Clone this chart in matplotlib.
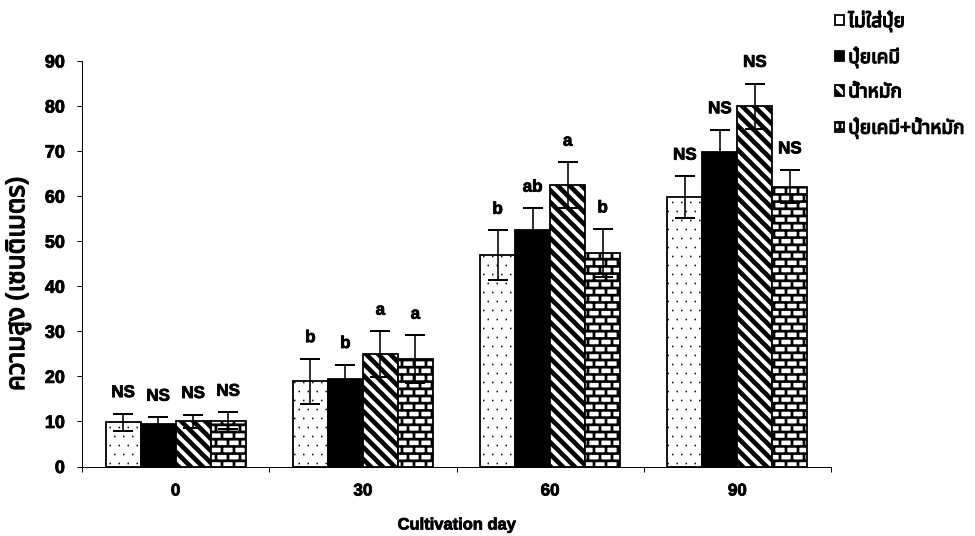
import numpy as np
import matplotlib
matplotlib.use('Agg')
import matplotlib.pyplot as plt
import matplotlib.patheffects as pe
from matplotlib import hatch as mhatch, font_manager
from matplotlib.ft2font import FT2Font
from matplotlib.path import Path

days = ['0', '30', '60', '90']
treatments = ['ไม่ใส่ปุ๋ย', 'ปุ๋ยเคมี', 'น้ำหมัก', 'ปุ๋ยเคมี+น้ำหมัก']

# plant height (cm) per cultivation day
height_none = [9.8, 18.9, 46.9, 59.8]
height_chem = [9.5, 19.5, 52.6, 69.8]
height_bio = [10.0, 24.9, 62.4, 80.0]
height_mix = [10.2, 23.8, 47.4, 62.1]

err_none = [1.9, 5.0, 5.5, 4.6]
err_chem = [1.4, 3.1, 4.7, 4.9]
err_bio = [1.5, 5.1, 5.1, 5.0]
err_mix = [1.8, 5.3, 5.3, 3.7]

sig_none = ['NS', 'b', 'b', 'NS']
sig_chem = ['NS', 'b', 'ab', 'NS']
sig_bio = ['NS', 'a', 'a', 'NS']
sig_mix = ['NS', 'a', 'b', 'NS']

DPI = 72


# --- filled hatch patterns (thick stripes, dots, bricks) ---
def rect(x0, y0, x1, y1):
    return [(x0, y0), (x1, y0), (x1, y1), (x0, y1), (x0, y0)]


class FilledHatch(mhatch.HatchPatternBase):
    char = ''

    def __init__(self, hatch, density):
        n = hatch.count(self.char)
        self.polys = self.make(n, density) if n else []
        self.num_vertices = 5 * len(self.polys)

    def set_vertices_and_codes(self, vertices, codes):
        vertices[:] = np.array(self.polys, dtype=float).reshape(-1, 2)
        codes[:] = np.tile([Path.MOVETO, Path.LINETO, Path.LINETO,
                            Path.LINETO, Path.CLOSEPOLY], len(self.polys))


class Stripes(FilledHatch):
    char = '\\'

    def make(self, n, density):
        k = n * density
        h = 0.27 / k
        polys = []
        for i in range(2 * k + 1):
            c = i / k
            polys.append([(c - h + 1, -1), (c + h + 1, -1), (c + h - 2, 2),
                          (c - h - 2, 2), (c - h + 1, -1)])
        return polys


class Dots(FilledHatch):
    char = '.'

    def make(self, n, density):
        k = 8 * n
        s = 0.7 / DPI
        polys = []
        for j in range(k):
            for i in range(k):
                x = (i + 0.5 * (j % 2) + 0.25) / k
                y = (j + 0.5) / k
                polys.append(rect(x - s, y - s, x + s, y + s))
        return polys


class Bricks(FilledHatch):
    char = '+'

    def make(self, n, density):
        rows, cols = 10 * n, 6 * n
        t = 2.6 / DPI
        polys = []
        for r in range(rows + 1):
            y = r / rows
            polys.append(rect(-0.01, y - t / 2, 1.01, y + t / 2))
        for r in range(rows):
            for c in range(cols + 1):
                x = (c + 0.5 * (r % 2)) / cols
                polys.append(rect(x - t / 2, r / rows, x + t / 2, (r + 1) / rows))
        return polys


mhatch._hatch_types = [Stripes, Dots, Bricks]
plt.rcParams['hatch.linewidth'] = 0.1


def thai_family():
    found = []
    for f in font_manager.fontManager.ttflist:
        try:
            if 0x0E01 in FT2Font(f.fname).get_charmap():
                found.append(f.name)
        except Exception:
            continue
    for pref in ['Noto Sans Thai', 'Noto Sans Thai UI', 'Loma', 'Garuda', 'Tlwg Typo']:
        if pref in found:
            return pref
    return found[0] if found else 'DejaVu Sans'


thai = [thai_family(), 'Liberation Sans', 'DejaVu Sans']
heavy = [pe.withStroke(linewidth=1.3, foreground='black')]
semi = [pe.withStroke(linewidth=0.8, foreground='black')]
plt.rcParams['font.family'] = ['Liberation Sans', 'DejaVu Sans']
plt.rcParams['font.weight'] = 'bold'

fig = plt.figure(figsize=(975 / DPI, 536 / DPI), dpi=DPI)
ax = fig.add_axes([82 / 975, 1 - 466.5 / 536, (831 - 82) / 975, (466.5 - 61) / 536])

heights = [height_none, height_chem, height_bio, height_mix]
errors = [err_none, err_chem, err_bio, err_mix]
sigs = [sig_none, sig_chem, sig_bio, sig_mix]
faces = ['white', 'black', 'white', 'white']
hatches = ['.', None, '\\', '+']

x = np.arange(len(days))
w = 0.187
for i in range(4):
    pos = x + (i - 1.5) * w
    ax.bar(pos, heights[i], w, color=faces[i], edgecolor='black', linewidth=1.8,
           hatch=hatches[i], label=treatments[i], zorder=2)
    ax.errorbar(pos, heights[i], yerr=errors[i], fmt='none', ecolor='black',
                elinewidth=1.6, capsize=10, capthick=2, zorder=3)
    for p, h, e, s in zip(pos, heights[i], errors[i], sigs[i]):
        ax.text(p, h + e + 4.7, s, ha='center', va='center', fontsize=17,
                fontweight='bold', zorder=4, path_effects=semi)

ax.set_xlim(-0.5, 3.5)
ax.set_ylim(0, 90)
ax.set_yticks(np.arange(0, 91, 10))
ax.tick_params(axis='y', labelsize=18, length=5, width=1, pad=12)
ax.set_xticks(np.arange(-0.5, 4, 1))
ax.set_xticklabels([])
ax.tick_params(axis='x', which='major', length=5, width=1)
ax.set_xticks(x, minor=True)
ax.set_xticklabels(days, minor=True)
ax.tick_params(axis='x', which='minor', length=0, labelsize=17, pad=17)
for t in ax.get_yticklabels() + ax.get_xticklabels(minor=True):
    t.set_path_effects(semi)

for side in ['top', 'right']:
    ax.spines[side].set_visible(False)
for side in ['left', 'bottom']:
    ax.spines[side].set_linewidth(1)

xlab = ax.set_xlabel('Cultivation day', fontsize=16.5, fontweight='bold', labelpad=19)
xlab.set_path_effects(semi)
ylab = ax.set_ylabel('ความสูง (เซนติเมตร)', fontsize=26, fontweight='bold',
                     family=thai)
ylab.set_path_effects(heavy)
ax.yaxis.set_label_coords(-0.068, 0.45)

leg = fig.legend(loc='upper left', bbox_to_anchor=(835 / 975, 1 - 10 / 536),
                 frameon=False, borderpad=0, borderaxespad=0, handlelength=0.45,
                 handleheight=0.45, handletextpad=0.25, labelspacing=0.75,
                 prop={'family': thai, 'size': 19, 'weight': 'bold'})
for t in leg.get_texts():
    t.set_path_effects(heavy)

fig.savefig('out.png', dpi=DPI)
